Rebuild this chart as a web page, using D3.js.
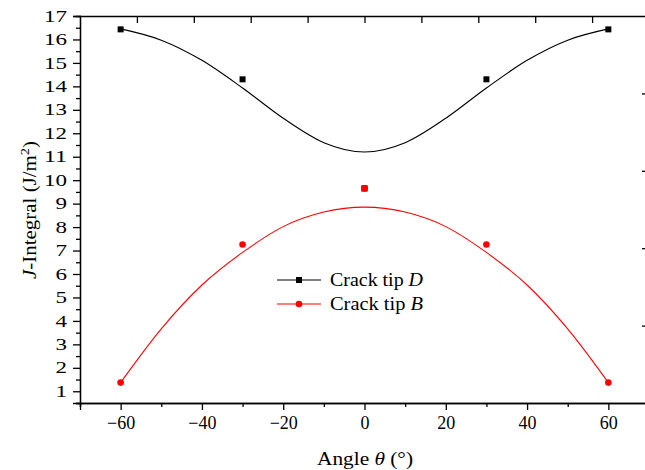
<!DOCTYPE html>
<html>
<head>
<meta charset="utf-8">
<script src="https://cdn.jsdelivr.net/npm/d3@7"></script>
<style>
body { margin: 0; background: #fff; }
text { font-family: "Liberation Serif", "Times New Roman", serif; }
</style>
</head>
<body>
<script>
// measured points
var angles = [-60, -30, 0, 30, 60];
var tipD = [16.43, 14.30, 9.65, 14.30, 16.43];
var tipB = [1.37, 7.26, 9.65, 7.26, 1.37];

// fitted curves
var fitAngles = [-60, -50, -40, -30, -20, -10, 0, 10, 20, 30, 40, 50, 60];
var fitD = [16.45, 15.97, 15.11, 13.93, 12.64, 11.60, 11.2, 11.60, 12.64, 13.93, 15.11, 15.97, 16.45];
var fitB = [1.37, 3.66, 5.53, 6.92, 8.02, 8.64, 8.85, 8.64, 8.02, 6.92, 5.53, 3.66, 1.37];

var xTicks = [-60, -40, -20, 0, 20, 40, 60];
var xMinor = [-70, -50, -30, -10, 10, 30, 50];
var yTicks = d3.range(1, 18);
var yMinor = d3.range(0.5, 17, 1);

var W = 645, H = 470;
var mLeft = 80, mRight = 649, mTop = 16, mBottom = 403;

var svg = d3.select("body").append("svg")
    .attr("width", W)
    .attr("height", H)

var x = d3.scaleLinear().domain([-70, 70]).range([mLeft, mRight]);
var y = d3.scaleLinear().domain([0.5, 17]).range([mBottom, mTop]);
// the frame's top and right edges carry their own unlabelled ticks
var xTop = d3.scaleLinear().domain([0, 10]).range([mLeft, mRight]);
var yRight = d3.scaleLinear().domain([0, 5]).range([mBottom, mTop]);

function styleAxis(g) {
    g.select(".domain").attr("stroke-width", 1.3)
    g.selectAll(".tick line").attr("stroke-width", 1.3)
    g.selectAll("text").attr("font-size", 18).attr("fill", "#000")
        .attr("font-family", "Liberation Serif, Times New Roman, serif")
}

// bottom
svg.append("g")
    .attr("transform", "translate(0," + mBottom + ")")
    .call(d3.axisBottom(x).tickValues(xMinor).tickSize(4).tickFormat(""))
    .call(styleAxis)
svg.append("g")
    .attr("transform", "translate(0," + mBottom + ")")
    .call(d3.axisBottom(x).tickValues(xTicks).tickSize(7).tickPadding(6).tickFormat(d3.format("d")))
    .call(styleAxis)

// left
svg.append("g")
    .attr("transform", "translate(" + mLeft + ",0)")
    .call(d3.axisLeft(y).tickValues(yMinor).tickSize(4).tickFormat(""))
    .call(styleAxis)
svg.append("g")
    .attr("transform", "translate(" + mLeft + ",0)")
    .call(d3.axisLeft(y).tickValues(yTicks).tickSize(7).tickPadding(6).tickFormat(d3.format("d")))
    .call(styleAxis)
    .selectAll("text")
    .attr("font-size", 16)
    .attr("lengthAdjust", "spacingAndGlyphs")
    .attr("textLength", function(d) { return String(d).length * 11.5; })

// top
svg.append("g")
    .attr("transform", "translate(0," + mTop + ")")
    .call(d3.axisBottom(xTop).tickValues(d3.range(1, 10)).tickSize(7).tickFormat("").tickSizeOuter(0))
    .call(styleAxis)

// right
svg.append("g")
    .attr("transform", "translate(" + mRight + ",0)")
    .call(d3.axisLeft(yRight).tickValues(d3.range(1, 5)).tickSize(7).tickFormat("").tickSizeOuter(0))
    .call(styleAxis)

// curves
var line = d3.line()
    .x(function(d) { return x(d[0]); })
    .y(function(d) { return y(d[1]); })
    .curve(d3.curveMonotoneX)

svg.append("path")
    .datum(d3.zip(fitAngles, fitD))
    .attr("d", line)
    .attr("fill", "none")
    .attr("stroke", "#000")
    .attr("stroke-width", 1.1)

svg.append("path")
    .datum(d3.zip(fitAngles, fitB))
    .attr("d", line)
    .attr("fill", "none")
    .attr("stroke", "#ff0000")
    .attr("stroke-width", 1.1)

// markers
var sq = 6;
svg.selectAll(".ptD")
    .data(d3.zip(angles, tipD))
    .enter().append("rect")
    .attr("x", function(d) { return x(d[0]) - sq / 2; })
    .attr("y", function(d) { return y(d[1]) - sq / 2; })
    .attr("width", sq)
    .attr("height", sq)
    .attr("fill", "#000")

svg.selectAll(".ptB")
    .data(d3.zip(angles, tipB))
    .enter().append("circle")
    .attr("cx", function(d) { return x(d[0]); })
    .attr("cy", function(d) { return y(d[1]); })
    .attr("r", 3.3)
    .attr("fill", "#ff0000")

// overlapping point at 0 shows as a red square
svg.append("rect")
    .attr("x", x(0) - sq / 2)
    .attr("y", y(tipB[2]) - sq / 2)
    .attr("width", sq)
    .attr("height", sq)
    .attr("fill", "#ff0000")

// legend
var legend = [["D", "#000", "rect"], ["B", "#ff0000", "circle"]];
legend.forEach(function(l, i) {
    var ly = 280 + i * 24;
    svg.append("line")
        .attr("x1", 277).attr("x2", 321)
        .attr("y1", ly).attr("y2", ly)
        .attr("stroke", l[1])
        .attr("stroke-width", 1.1)
    if (l[2] == "rect") {
        svg.append("rect")
            .attr("x", 299 - sq / 2).attr("y", ly - sq / 2)
            .attr("width", sq).attr("height", sq)
            .attr("fill", l[1])
    } else {
        svg.append("circle")
            .attr("cx", 299).attr("cy", ly).attr("r", 3.3)
            .attr("fill", l[1])
    }
    var t = svg.append("text")
        .attr("x", 330).attr("y", ly + 6)
        .attr("font-size", 18)
        .attr("lengthAdjust", "spacingAndGlyphs")
        .attr("textLength", 93)
    t.append("tspan").text("Crack tip ")
    t.append("tspan").attr("font-style", "italic").text(l[0])
})

// axis titles
var xt = svg.append("text")
    .attr("x", 365).attr("y", 465)
    .attr("text-anchor", "middle")
    .attr("font-size", 19)
    .attr("lengthAdjust", "spacingAndGlyphs")
    .attr("textLength", 96)
xt.append("tspan").text("Angle ")
xt.append("tspan").attr("font-style", "italic").text("θ")
xt.append("tspan").text(" (°)")

var yt = svg.append("text")
    .attr("transform", "translate(36,210) rotate(-90)")
    .attr("text-anchor", "middle")
    .attr("font-size", 19)
    .attr("lengthAdjust", "spacingAndGlyphs")
    .attr("textLength", 138)
yt.append("tspan").attr("font-style", "italic").text("J")
yt.append("tspan").text("-Integral (J/m")
yt.append("tspan").attr("font-size", 13).attr("dy", -7).text("2")
yt.append("tspan").attr("dy", 7).text(")")
</script>
</body>
</html>
